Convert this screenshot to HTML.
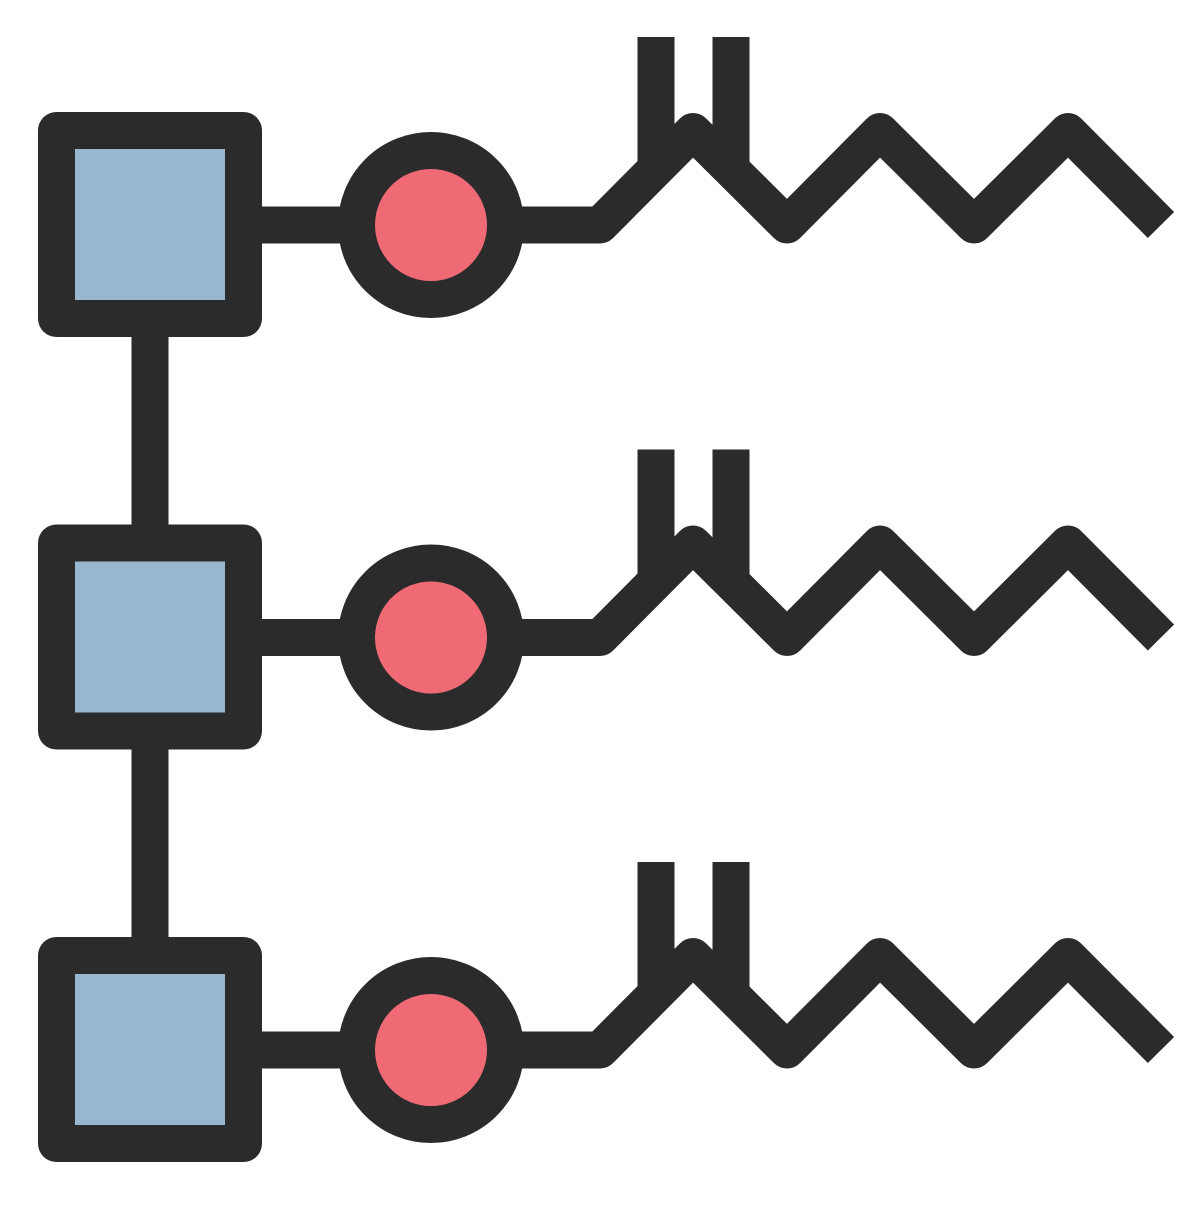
<!DOCTYPE html>
<html><head><style>html,body{margin:0;padding:0;background:#fff}</style></head>
<body>
<svg width="1200" height="1200" viewBox="0 0 1200 1200" xmlns="http://www.w3.org/2000/svg">
<defs>
<g id="row">
<line x1="262" y1="225" x2="340" y2="225" stroke="#2b2b2b" stroke-width="37"/>
<polyline points="520,225 600,225 693,131.5 787,225 880,131.5 974,225 1068,131.5 1161,225" fill="none" stroke="#2b2b2b" stroke-width="37" stroke-linejoin="round"/>
<rect x="637.5" y="37" width="37" height="125" fill="#2b2b2b"/>
<rect x="712.5" y="37" width="37" height="125" fill="#2b2b2b"/>
<rect x="56.5" y="130.5" width="187" height="188" fill="#9ab7d0" stroke="#2b2b2b" stroke-width="37" stroke-linejoin="round"/>
<circle cx="431" cy="225" r="74.5" fill="#f06a76" stroke="#2b2b2b" stroke-width="37"/>
</g>
</defs>
<rect x="131.5" y="330" width="37" height="200" fill="#2b2b2b"/>
<rect x="131.5" y="742" width="37" height="200" fill="#2b2b2b"/>
<use href="#row"/>
<use href="#row" y="412.5"/>
<use href="#row" y="825"/>
</svg>
</body></html>
